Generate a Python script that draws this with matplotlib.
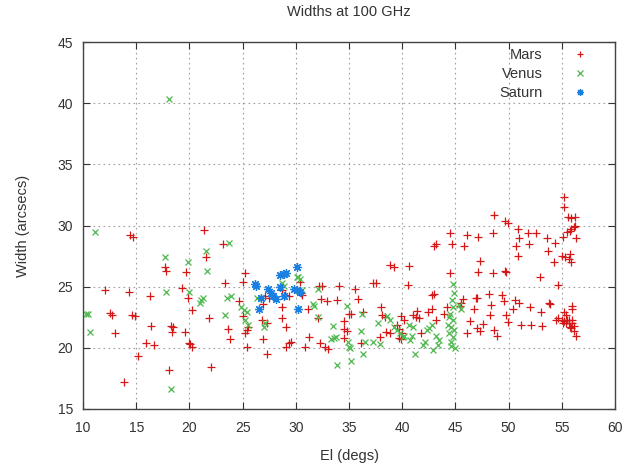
import matplotlib
matplotlib.use('Agg')
import matplotlib.pyplot as plt

# Mars (El, Width)
mars_el = [14.4, 14.7, 12.1, 14.3, 16.3, 12.5, 12.7, 14.6, 14.9, 13.0, 16.4, 15.9, 16.7, 18.3, 18.5, 18.4,
           17.7, 17.8, 19.7, 19.3, 19.9, 20.2, 19.6, 20.0, 20.1, 20.2, 15.2, 18.1, 13.9,
           21.4, 23.2, 21.6, 25.2, 25.0, 23.35, 21.8, 24.7, 25.0, 23.6, 23.8, 25.2, 25.4, 25.5, 25.4,
           27.1, 27.5, 26.95, 28.7, 26.8, 27.3, 28.7, 29.05, 26.95, 27.3, 29.1, 29.4, 29.55, 22.0, 28.7,
           29.0, 29.4,
           38.85, 39.2, 40.6, 37.3, 37.5, 32.2, 32.5, 34.1, 35.6, 35.8, 30.4, 30.5, 30.6, 32.4, 32.9,
           33.9, 31.1, 32.05, 35.0, 35.2, 36.3, 38.0, 38.1, 38.4, 34.5, 34.55, 34.8, 34.5, 31.2, 30.85,
           32.3, 32.7, 33.0, 36.1, 37.9, 38.5, 38.85, 39.5, 39.7, 39.95, 39.9, 40.2, 39.7, 39.9,
           44.5, 46.1, 47.1, 44.65, 43.0, 43.2, 45.8, 44.5, 47.15, 40.5, 42.8, 42.95, 46.9, 45.7, 45.5,
           45.4, 44.2, 42.8, 42.45, 41.4, 41.0, 41.3, 41.6, 43.9, 43.2, 46.75, 46.4, 46.06, 41.8, 47.0,
           48.6, 49.66, 49.9, 48.5, 50.9, 51.0, 51.85, 52.6, 51.95, 50.7, 50.9, 53.6, 54.4, 53.7, 54.27,
           47.3, 48.5, 49.66, 49.75, 52.95, 54.6, 47.0, 48.2, 49.35, 49.6, 48.3, 50.6, 51.0, 50.45, 52.0,
           53.8, 53.9, 53.0, 48.25, 49.8, 49.96, 47.55, 47.3, 48.6, 48.9, 51.2, 52.15, 53.1, 54.6,
           55.2, 55.2, 55.6, 55.9, 56.2, 56.1, 55.9, 56.2, 55.8, 55.46, 55.1, 56.3, 55.0, 55.3, 55.8,
           55.7, 55.9, 56.0, 56.0, 55.2, 55.4, 54.5, 55.0, 55.2, 55.46, 55.7, 56.0, 55.1, 55.4, 55.7,
           56.0, 55.8, 56.1, 55.9, 56.1, 56.3]
mars_w = [29.2, 29.05, 24.7, 24.6, 24.2, 22.85, 22.65, 22.65, 22.6, 21.2, 21.75, 20.4, 20.25, 21.8, 21.7, 21.3,
          26.6, 26.3, 26.2, 24.9, 24.1, 23.1, 21.3, 20.4, 20.3, 20.1, 19.3, 18.2, 17.2,
          29.6, 28.5, 27.45, 26.1, 25.4, 25.3, 22.4, 23.8, 22.6, 21.5, 20.7, 21.2, 21.45, 21.7, 20.1,
          24.2, 24.1, 23.55, 23.35, 22.3, 22.0, 22.4, 21.7, 20.7, 19.5, 20.1, 20.36, 20.5, 18.45, 24.7,
          24.3, 24.2,
          26.8, 26.6, 26.7, 25.3, 25.3, 25.05, 25.05, 25.05, 24.85, 24.0, 25.4, 24.5, 24.3, 24.0, 23.8,
          23.9, 23.15, 22.4, 22.75, 22.8, 22.95, 23.35, 22.7, 22.5, 22.2, 21.5, 21.4, 20.8, 20.9, 20.1,
          20.4, 20.1, 19.9, 20.4, 20.85, 21.3, 21.2, 21.85, 21.5, 21.2, 22.6, 22.3, 20.8, 20.7,
          29.4, 29.2, 29.1, 28.5, 28.3, 28.5, 28.3, 26.1, 26.2, 25.1, 24.3, 24.4, 24.1, 24.0, 23.7,
          23.4, 23.3, 23.15, 22.9, 23.0, 22.7, 22.55, 22.4, 22.8, 22.3, 23.15, 22.2, 21.2, 21.2, 21.6,
          30.85, 30.4, 30.2, 29.4, 29.7, 29.0, 29.35, 29.4, 28.5, 28.3, 27.5, 29.0, 28.6, 27.9, 27.0,
          27.1, 26.1, 26.3, 26.2, 25.8, 25.1, 24.1, 24.4, 24.3, 23.8, 23.5, 23.9, 23.7, 23.2, 23.3,
          23.7, 23.6, 22.9, 22.7, 22.7, 22.1, 21.95, 21.4, 21.45, 21.0, 21.85, 21.85, 21.8, 22.4,
          32.3, 31.5, 30.7, 30.6, 30.7, 29.9, 29.7, 30.0, 29.55, 29.5, 29.1, 29.0, 27.5, 27.4, 27.7,
          27.3, 27.0, 23.4, 23.2, 22.9, 22.7, 22.3, 22.25, 22.2, 22.3, 22.25, 22.3, 22.0, 22.0, 22.0,
          22.0, 21.7, 21.8, 21.6, 21.4, 21.0]

venus_el = [11.1, 17.7, 19.9, 17.8, 20.0, 10.3, 10.5, 10.7, 18.3, 18.1,
            23.7, 21.6, 21.7, 21.3, 21.1, 21.0, 23.5, 23.9, 23.3, 24.85, 25.16, 25.4, 25.2, 25.5, 26.4,
            27.0, 27.1, 28.7, 28.9, 30.1,
            30.2, 30.4, 30.6, 30.3, 32.05, 31.65, 31.7, 32.05, 34.8, 36.2, 33.5, 36.1, 37.7, 38.6, 38.85,
            33.3, 33.6, 33.8, 34.9, 35.0, 35.1, 36.5, 37.3, 37.9, 36.3, 35.2, 33.9, 39.2, 39.5, 39.8,
            40.1, 40.6,
            44.8, 44.9, 44.7, 44.8, 44.5, 44.4, 44.8, 44.3, 44.6, 44.9, 44.4, 44.8, 44.6, 44.6, 45.0,
            45.3, 45.5, 43.2, 43.5, 43.4, 42.9, 42.8, 42.55, 42.3, 42.0, 42.15, 41.2, 41.05, 40.9, 40.7,
            40.2]
venus_w = [29.5, 27.4, 27.0, 24.55, 24.6, 22.75, 22.75, 21.3, 16.6, 40.3,
           28.6, 27.9, 26.3, 24.1, 23.9, 23.7, 24.1, 24.2, 22.65, 23.35, 23.1, 22.9, 22.3, 21.9, 24.1,
           21.7, 22.0, 25.3, 25.05, 25.8,
           25.8, 25.6, 24.7, 24.7, 24.8, 23.6, 23.4, 22.55, 23.4, 22.75, 21.8, 21.4, 22.05, 22.6, 22.3,
           20.7, 20.8, 20.85, 20.5, 20.1, 19.95, 20.5, 20.5, 20.3, 19.5, 18.9, 18.6, 21.7, 21.45, 21.2,
           20.9, 21.85,
           25.2, 24.5, 23.9, 23.35, 22.8, 22.5, 22.25, 21.85, 21.7, 21.45, 21.2, 20.9, 20.5, 20.15, 19.95,
           23.5, 23.2, 21.0, 20.6, 20.2, 19.8, 21.85, 21.6, 21.45, 20.2, 20.5, 19.5, 21.7, 21.0, 20.6,
           21.0]

saturn_el = [26.2, 26.3, 27.4, 27.7, 27.9, 26.7, 26.5, 28.5, 28.9, 29.1, 28.9, 29.8, 30.1, 30.1,
             30.2, 28.1, 30.4, 28.5]
saturn_w = [25.2, 25.05, 24.8, 24.5, 24.2, 24.1, 23.15, 25.95, 26.0, 26.1, 24.2, 24.8, 24.7, 26.6,
            23.15, 24.0, 24.6, 25.0]

plt.rcParams['font.family'] = ['Liberation Sans', 'DejaVu Sans']

fig = plt.figure(figsize=(6.29, 4.68), dpi=100)
ax = fig.add_axes([83/629, 1-409/468, (615-83)/629, (409-42)/468])

ax.plot(mars_el, mars_w, ls='none', marker='+', ms=6, mew=0.9, color='#d41818', label='Mars')
ax.plot(venus_el, venus_w, ls='none', marker='x', ms=5, mew=0.9, color='#4fb84f', label='Venus')
ax.plot(saturn_el, saturn_w, ls='none', marker=(8, 2, 0), ms=6.5, mew=0.9, color='#1a7fe0', label='Saturn')

ax.set_xlim(10, 60)
ax.set_ylim(15, 45)
ax.set_xticks(range(10, 61, 5))
ax.set_yticks(range(15, 46, 5))
ax.grid(True, color='#a0a0a0', ls=(0, (1.5, 3)), lw=0.8)
ax.tick_params(direction='in', top=True, right=True, length=5, labelsize=10, colors='#333333',
               labelcolor='#333333')
ax.tick_params(axis='x', pad=9)
ax.tick_params(axis='y', pad=7)
for s in ax.spines.values():
    s.set_color('#444444')
    s.set_linewidth(1.0)

ax.set_xlabel('El (degs)', fontsize=10.5, color='#333333', labelpad=10)
ax.set_ylabel('Width (arcsecs)', fontsize=10.5, color='#333333', labelpad=20)
ax.set_title('Widths at 100 GHz', fontsize=10.5, color='#333333', pad=19)

leg = ax.legend(loc='upper right', frameon=False, markerfirst=False, fontsize=10.5,
                handletextpad=1.8, labelspacing=0.35, borderaxespad=0.0, handlelength=1.5,
                markerscale=0.75, bbox_to_anchor=(0.965, 1.0))
for t in leg.get_texts():
    t.set_color('#333333')

fig.savefig('out.png', dpi=100)
